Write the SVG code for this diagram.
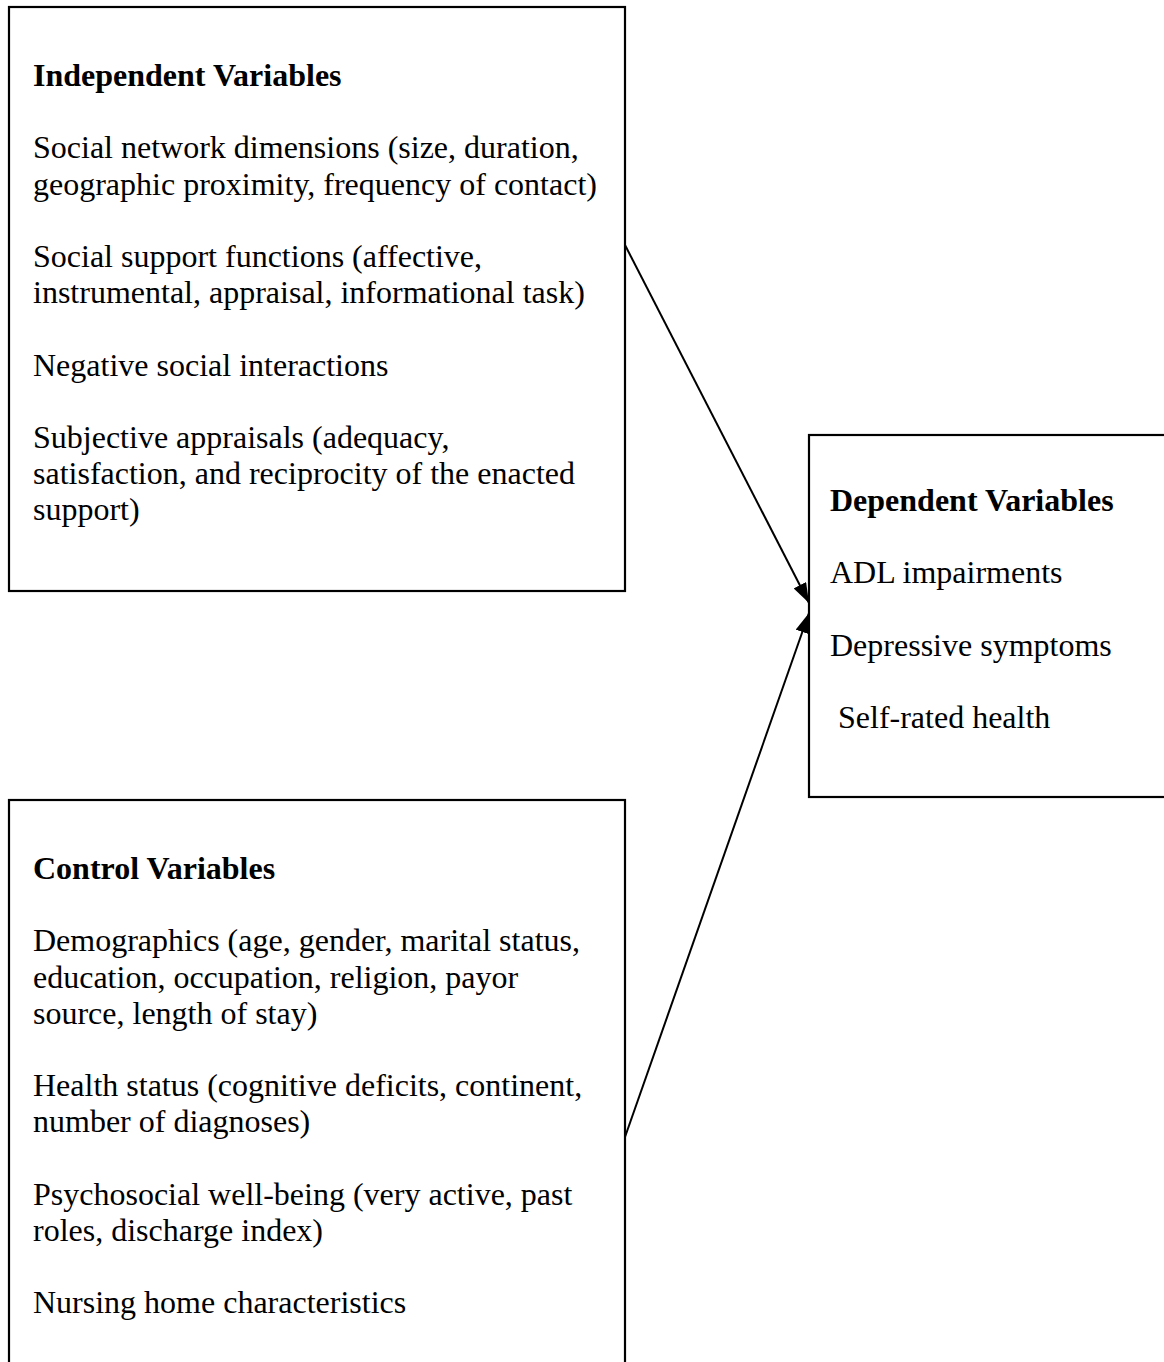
<svg xmlns="http://www.w3.org/2000/svg" width="1164" height="1362" viewBox="0 0 1164 1362">
<style>
.box{fill:#fff;stroke:#000;stroke-width:2.2}
.t{font-family:"Liberation Serif","Times New Roman",serif;font-size:32px;fill:#000}
.h{font-weight:bold}
.c{stroke:#000;stroke-width:2;fill:none}
</style>
<defs>
<marker id="ah" viewBox="0 0 20 14" refX="20" refY="7" markerWidth="20" markerHeight="14" markerUnits="userSpaceOnUse" orient="auto">
<path d="M0,0 L20,7 L0,14 Z" fill="#000"/>
</marker>
</defs>
<rect width="1164" height="1362" fill="#fff"/>
<g id="independent">
<rect class="box" x="9" y="7" width="616" height="584"/>
<text class="t h" x="33" y="86">Independent Variables</text>
<text class="t" x="33" y="158">Social network dimensions (size, duration,</text>
<text class="t" x="33" y="195">geographic proximity, frequency of contact)</text>
<text class="t" x="33" y="267">Social support functions (affective,</text>
<text class="t" x="33" y="303">instrumental, appraisal, informational task)</text>
<text class="t" x="33" y="376">Negative social interactions</text>
<text class="t" x="33" y="448">Subjective appraisals (adequacy,</text>
<text class="t" x="33" y="484">satisfaction, and reciprocity of the enacted</text>
<text class="t" x="33" y="520">support)</text>
</g>
<g id="dependent">
<rect class="box" x="809" y="435" width="370" height="362"/>
<text class="t h" x="830" y="511">Dependent Variables</text>
<text class="t" x="830" y="583">ADL impairments</text>
<text class="t" x="830" y="656">Depressive symptoms</text>
<text class="t" x="830" y="728" xml:space="preserve"> Self-rated health</text>
</g>
<g id="control">
<rect class="box" x="9" y="800" width="616" height="580"/>
<text class="t h" x="33" y="879">Control Variables</text>
<text class="t" x="33" y="951">Demographics (age, gender, marital status,</text>
<text class="t" x="33" y="988">education, occupation, religion, payor</text>
<text class="t" x="33" y="1024">source, length of stay)</text>
<text class="t" x="33" y="1096">Health status (cognitive deficits, continent,</text>
<text class="t" x="33" y="1132">number of diagnoses)</text>
<text class="t" x="33" y="1205">Psychosocial well-being (very active, past</text>
<text class="t" x="33" y="1241">roles, discharge index)</text>
<text class="t" x="33" y="1313">Nursing home characteristics</text>
</g>
<g id="connectors">
<line class="c" x1="625" y1="245" x2="809" y2="603" marker-end="url(#ah)"/>
<line class="c" x1="625" y1="1137" x2="809" y2="613" marker-end="url(#ah)"/>
</g>
</svg>
